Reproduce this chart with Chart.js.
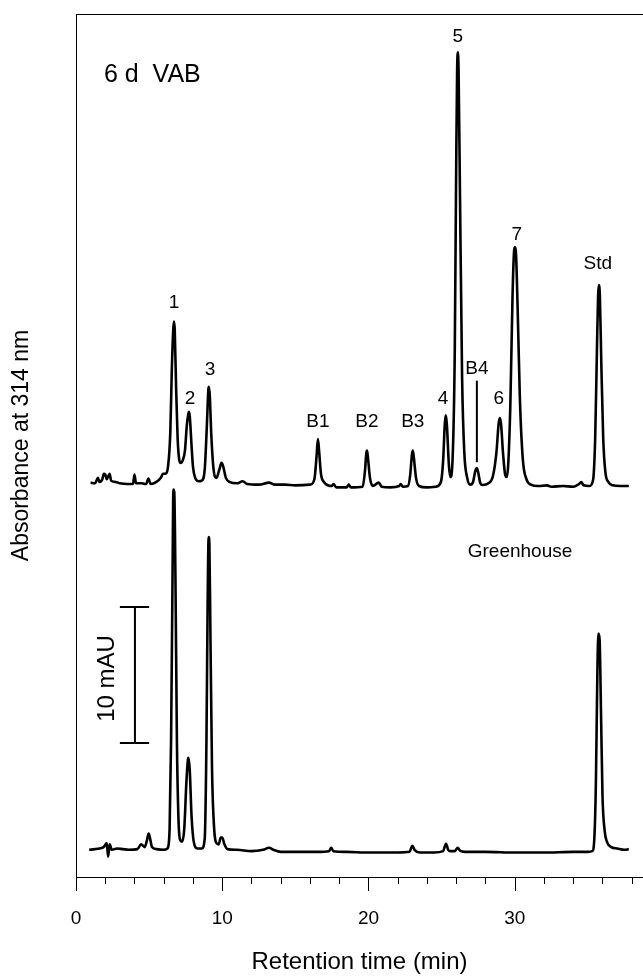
<!DOCTYPE html>
<html>
<head>
<meta charset="utf-8">
<script src="https://cdn.jsdelivr.net/npm/chart.js@4/dist/chart.umd.min.js"></script>
<style>
  html, body { margin: 0; padding: 0; background: #fff; overflow: hidden; }
  canvas { display: block; }
</style>
</head>
<body>
<canvas id="myChart" width="643" height="977"></canvas>
<script>
// 6 d VAB trace: retention time (min) and absorbance (mAU above its own baseline)
var upperTime = [1.0, 1.3, 1.5, 1.6, 1.8, 1.9, 2.0, 2.1, 2.3, 2.4, 2.7, 3.0, 3.5, 3.9, 4.0, 4.1, 4.5, 4.8, 4.95, 5.1,
  5.5, 5.8, 5.95, 6.1, 6.3, 6.45, 6.55, 6.65, 6.7, 6.75, 6.85, 6.95, 7.05, 7.15, 7.3, 7.45, 7.58, 7.68, 7.72, 7.78,
  7.9, 8.0, 8.15, 8.4, 8.6, 8.8, 8.95, 9.05, 9.09, 9.15, 9.25, 9.4, 9.6, 9.8, 9.95, 10.05, 10.25, 10.5, 11.0, 11.4,
  11.7, 12.5, 13.2, 13.6, 14.3, 15.0, 16.0, 16.3, 16.45, 16.54, 16.62, 16.75, 16.95, 17.5, 17.6, 17.8, 18.5, 18.65, 18.8, 19.6,
  19.75, 19.85, 19.9, 19.97, 20.1, 20.3, 20.7, 20.9, 21.5, 22.1, 22.2, 22.35, 22.7, 22.85, 22.97, 23.03, 23.1, 23.25, 23.45, 24.0,
  24.6, 24.95, 25.1, 25.22, 25.29, 25.36, 25.5, 25.6, 25.75, 25.9, 26.0, 26.06, 26.11, 26.16, 26.25, 26.4, 26.55, 26.75, 26.95, 27.15,
  27.3, 27.41, 27.5, 27.65, 27.8, 28.2, 28.5, 28.75, 28.9, 28.98, 29.06, 29.2, 29.35, 29.45, 29.55, 29.7, 29.85, 29.95, 30.01, 30.08,
  30.2, 30.35, 30.55, 30.8, 31.1, 31.6, 32.2, 32.5, 33.3, 34.0, 34.4, 34.55, 34.7, 35.1, 35.35, 35.5, 35.62, 35.7, 35.75, 35.82,
  35.92, 36.05, 36.2, 36.4, 36.7, 37.2, 37.8];
var upperAbs = [0.25, 0.2, 0.6, 0.3, 0.5, 0.9, 0.85, 0.5, 0.9, 0.4, 0.3, 0.2, 0.15, 0.15, 0.85, 0.2, 0.2, 0.15, 0.55, 0.15,
  0.3, 0.6, 0.9, 0.9, 1.5, 4.0, 8.5, 11.5, 12.1, 11.5, 7.0, 3.5, 2.0, 1.7, 1.9, 2.6, 4.5, 5.3, 5.45, 5.1,
  3.0, 1.4, 0.6, 0.35, 0.4, 1.2, 4.5, 7.1, 7.3, 6.6, 3.8, 1.3, 0.6, 1.2, 1.7, 1.5, 0.6, 0.3, 0.2, 0.35,
  0.15, 0.1, 0.25, 0.1, 0.1, 0.05, 0.1, 0.5, 2.2, 3.45, 2.6, 0.9, 0.3, 0.0, 0.15, -0.1, -0.1, 0.1, -0.1, -0.05,
  1.0, 2.4, 2.6, 2.0, 0.6, 0.0, 0.25, -0.05, -0.1, 0.0, 0.15, -0.05, 0.0, 0.8, 2.3, 2.6, 2.1, 0.6, 0.0, -0.1,
  -0.05, 0.3, 1.8, 4.6, 5.2, 4.5, 1.5, 0.66, 2.0, 10, 24, 30.5, 31.9, 30.5, 22, 8, 2.5, 0.6, 0.1, 0.3,
  1.1, 1.32, 1.0, 0.2, 0.07, 0.2, 0.7, 2.5, 4.6, 5.0, 4.6, 2.4, 0.8, 0.66, 1.5, 6, 14, 17.2, 17.57, 17.2,
  13, 6.5, 2.0, 0.5, 0.1, 0.0, 0.05, -0.05, 0.0, -0.05, 0.15, 0.3, 0.05, 0.0, 0.4, 3.5, 10, 14, 14.78, 14,
  9, 3.5, 1.0, 0.3, 0.05, 0.0, 0.0];

// Greenhouse trace
var lowerTime = [0.9, 1.3, 1.6, 1.9, 2.1, 2.2, 2.3, 2.45, 2.8, 3.2, 3.6, 4.2, 4.45, 4.7, 4.85, 4.97, 5.07, 5.2, 5.5, 6.0,
  6.25, 6.4, 6.5, 6.6, 6.66, 6.72, 6.8, 6.9, 7.0, 7.1, 7.25, 7.4, 7.55, 7.65, 7.7, 7.78, 7.9, 8.05, 8.3, 8.6,
  8.8, 8.92, 9.0, 9.07, 9.12, 9.2, 9.3, 9.45, 9.6, 9.75, 9.9, 10.0, 10.15, 10.35, 11.0, 12.0, 12.8, 13.2, 13.5, 14.0,
  15.0, 16.5, 17.3, 17.45, 17.6, 18.5, 20.0, 22.0, 22.8, 23.0, 23.15, 23.5, 24.5, 25.1, 25.3, 25.45, 25.6, 25.9, 26.1, 26.25,
  26.6, 28.0, 30.0, 32.0, 34.0, 35.0, 35.3, 35.45, 35.55, 35.65, 35.72, 35.8, 35.9, 36.0, 36.15, 36.3, 36.6, 37.0, 37.5, 37.8];
var lowerAbs = [0.0, 0.05, 0.1, 0.2, 0.5, -0.5, 0.4, 0.0, 0.1, 0.05, 0.0, 0.05, 0.4, 0.2, 0.7, 1.2, 0.8, 0.2, 0.05, 0.0,
  0.1, 1.5, 8, 20, 26.5, 26.3, 20, 8, 2.5, 0.8, 0.6, 1.5, 5.0, 6.6, 6.76, 5.8, 2.5, 0.6, 0.1, 0.1,
  0.8, 8, 18, 23, 22.5, 15, 6, 1.5, 0.5, 0.4, 0.9, 0.9, 0.4, 0.05, 0.0, -0.1, 0.0, 0.15, 0.0, -0.15,
  -0.15, -0.15, -0.1, 0.15, -0.1, -0.15, -0.2, -0.2, -0.15, 0.3, 0.0, -0.2, -0.2, -0.1, 0.45, 0.0, -0.1, -0.1, 0.15, -0.05,
  -0.15, -0.15, -0.2, -0.2, -0.15, -0.15, -0.1, 1.0, 5.0, 13, 15.9, 15.5, 10, 4, 1.4, 0.6, 0.2, 0.1, 0.0, 0.05];

var upperOffset = 26.75;   // stacking offset of the 6 d VAB trace (mAU)

// peak labels of the 6 d VAB trace (label anchor on the shared y axis)
var peakLabels = ['1', '2', '3', 'B1', 'B2', 'B3', '4', '5', 'B4', '6', '7', 'Std'];
var peakLabelTime = [6.70, 7.79, 9.16, 16.54, 19.89, 23.03, 25.09, 26.11, 27.41, 28.91, 30.14, 35.68];
var peakLabelAbs = [40.2, 33.2, 35.3, 31.5, 31.5, 31.5, 33.2, 59.8, 35.4, 33.2, 45.2, 43.1];

var xTickLabels = [0, 10, 20, 30];

function toPoints(t, v, off) {
    return t.map(function (x, i) { return { x: x, y: v[i] + off }; });
}

var frameAndNotes = {
    id: 'frameAndNotes',
    afterDraw: function (chart) {
        var ctx = chart.ctx, a = chart.chartArea;
        var xs = chart.scales.x, ys = chart.scales.y;
        ctx.save();
        ctx.strokeStyle = '#000';
        ctx.lineWidth = 1;
        // frame; its right side falls just outside the canvas
        ctx.strokeRect(a.left + 0.5, a.top + 0.5, a.right - a.left, a.bottom - a.top);

        // outward tick marks: long at labelled values, short every 2 min
        ctx.beginPath();
        xs.ticks.forEach(function (t) {
            var px = Math.round(xs.getPixelForValue(t.value)) + 0.5;
            var len = xTickLabels.indexOf(t.value) >= 0 ? 14 : 7;
            ctx.moveTo(px, a.bottom);
            ctx.lineTo(px, a.bottom + len);
        });
        ctx.stroke();

        ctx.fillStyle = '#000';
        ctx.textBaseline = 'middle';
        ctx.textAlign = 'center';
        ctx.font = '19px "Liberation Sans", Arial, sans-serif';
        peakLabels.forEach(function (s, i) {
            ctx.fillText(s, xs.getPixelForValue(peakLabelTime[i]), ys.getPixelForValue(peakLabelAbs[i]));
        });

        // B4 pointer
        ctx.lineWidth = 2;
        ctx.beginPath();
        var bx = xs.getPixelForValue(27.41);
        ctx.moveTo(bx, ys.getPixelForValue(34.5));
        ctx.lineTo(bx, ys.getPixelForValue(28.5));
        ctx.stroke();

        ctx.font = '25px "Liberation Sans", Arial, sans-serif';
        ctx.textAlign = 'left';
        ctx.fillText('6 d  VAB', xs.getPixelForValue(1.91), ys.getPixelForValue(57.0));
        ctx.font = '19px "Liberation Sans", Arial, sans-serif';
        ctx.textAlign = 'center';
        ctx.fillText('Greenhouse', xs.getPixelForValue(30.36), ys.getPixelForValue(21.9));

        // 10 mAU scale bar
        ctx.lineWidth = 2;
        ctx.beginPath();
        var sx = xs.getPixelForValue(4.03);
        ctx.moveTo(sx, ys.getPixelForValue(7.85));
        ctx.lineTo(sx, ys.getPixelForValue(17.85));
        [7.85, 17.85].forEach(function (v) {
            ctx.moveTo(xs.getPixelForValue(3.0), ys.getPixelForValue(v));
            ctx.lineTo(xs.getPixelForValue(5.0), ys.getPixelForValue(v));
        });
        ctx.stroke();

        ctx.save();
        ctx.translate(xs.getPixelForValue(2.12), ys.getPixelForValue(12.6));
        ctx.rotate(-Math.PI / 2);
        ctx.font = '24px "Liberation Sans", Arial, sans-serif';
        ctx.fillText('10 mAU', 0, 0);
        ctx.restore();
        ctx.restore();
    }
};

var ctx = document.getElementById('myChart').getContext('2d');
var myChart = new Chart(ctx, {
    type: 'line',
    data: {
        datasets: [
            { data: toPoints(upperTime, upperAbs, upperOffset), borderColor: '#000', borderWidth: 2.6,
              pointRadius: 0, cubicInterpolationMode: 'monotone', fill: false },
            { data: toPoints(lowerTime, lowerAbs, 0), borderColor: '#000', borderWidth: 2.6,
              pointRadius: 0, cubicInterpolationMode: 'monotone', fill: false }
        ]
    },
    options: {
        responsive: false,
        animation: false,
        devicePixelRatio: 1,
        layout: { padding: { top: 14, right: 0, left: 0, bottom: 0 } },
        plugins: { legend: { display: false }, tooltip: { enabled: false } },
        scales: {
            x: {
                type: 'linear', min: 0, max: 38.77,
                border: { display: false },
                // tick marks are drawn by the plugin; the hidden tick length only spaces the labels
                grid: { display: true, drawOnChartArea: false, drawTicks: true, tickLength: 30,
                        color: 'rgba(0,0,0,0)', tickColor: 'rgba(0,0,0,0)' },
                ticks: {
                    stepSize: 2, includeBounds: false, padding: 0, color: '#000', maxRotation: 0, autoSkip: false,
                    font: { family: '"Liberation Sans", Arial, sans-serif', size: 19 },
                    callback: function (v) { return xTickLabels.indexOf(v) >= 0 ? String(v) : ''; }
                },
                title: { display: true, text: 'Retention time (min)', color: '#000', padding: { top: 0, bottom: 0 },
                         font: { family: '"Liberation Sans", Arial, sans-serif', size: 24 } },
                afterFit: function (s) { s.height = 100; }
            },
            y: {
                min: -2, max: 61.46,
                border: { display: false },
                grid: { display: false },
                ticks: { display: false },
                title: { display: true, text: 'Absorbance at 314 nm', color: '#000', padding: { top: 8, bottom: 0 },
                         font: { family: '"Liberation Sans", Arial, sans-serif', size: 23 } },
                afterFit: function (s) { s.width = 76; }
            }
        }
    },
    plugins: [frameAndNotes]
});
</script>
</body>
</html>
